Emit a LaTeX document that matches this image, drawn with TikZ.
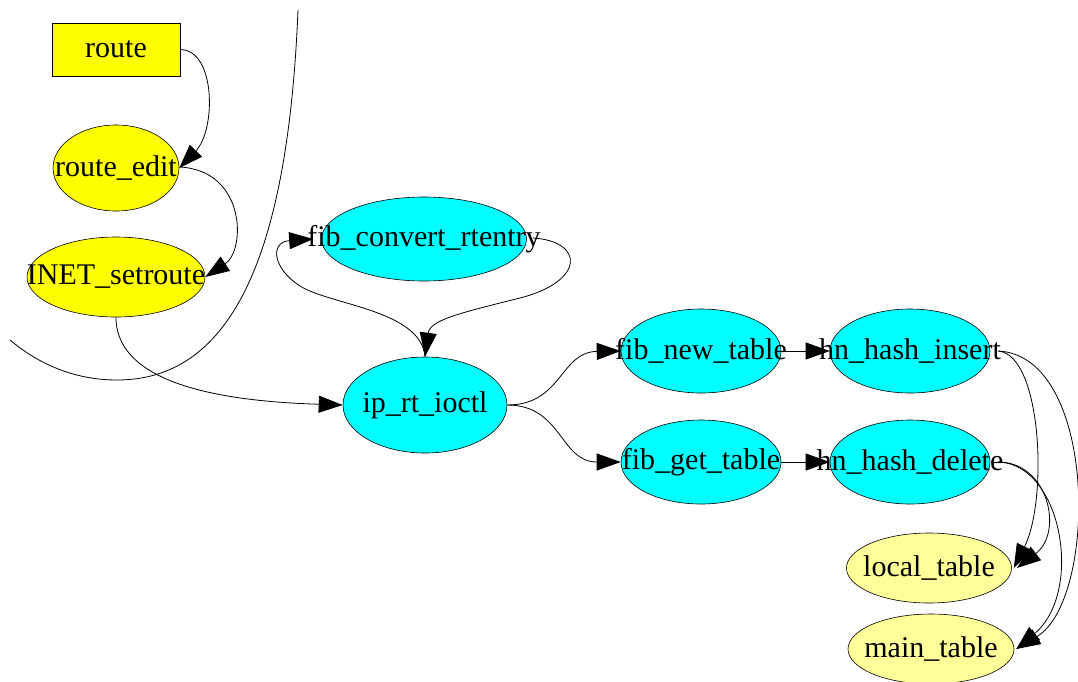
\documentclass[tikz,border=0pt]{standalone}
\usepackage{fontspec}
\setmainfont{Liberation Serif}
\usetikzlibrary{arrows.meta,shapes.geometric}
\definecolor{ylw}{HTML}{FFFF00}
\definecolor{cyn}{HTML}{00FFFF}
\definecolor{pale}{HTML}{FFFF99}
\begin{document}
\begin{tikzpicture}[x=1pt,y=-1pt,
  txt/.style={font=\fontsize{30}{32}\selectfont, inner sep=0pt, text=black},
  base/.style={draw=black, line width=0.6pt, inner sep=0pt},
  ell/.style={base, ellipse},
  ylwell/.style={ell, fill=ylw},
  cynell/.style={ell, fill=cyn},
  paleell/.style={ell, fill=pale},
  conn/.style={line width=0.8pt, -{Triangle[length=24pt,width=17pt]}},
  plain/.style={line width=0.8pt}
]
\useasboundingbox (0,0) rectangle (1078,681);

% nodes
\node[base, rectangle, fill=ylw, minimum width=128pt, minimum height=53pt, txt] (route) at (116,49.5) {route};
\node[ylwell, minimum width=126pt, minimum height=86pt, label={[txt]center:route\_edit}] (redit) at (116,168) {};
\node[ylwell, minimum width=178pt, minimum height=80pt, label={[txt]center:INET\_setroute}] (inet) at (116,277) {};
\node[cynell, minimum width=205pt, minimum height=84pt, label={[txt]center:fib\_convert\_rtentry}] (fconv) at (424,239) {};
\node[cynell, minimum width=164pt, minimum height=96pt, label={[txt]center:ip\_rt\_ioctl}] (ioctl) at (425,405) {};
\node[cynell, minimum width=160pt, minimum height=84pt, label={[txt]center:fib\_new\_table}] (fnew) at (701,351) {};
\node[cynell, minimum width=160pt, minimum height=84pt, label={[txt]center:hn\_hash\_insert}] (hins) at (910,351) {};
\node[cynell, minimum width=160pt, minimum height=84pt, label={[txt]center:fib\_get\_table}] (fget) at (701,462) {};
\node[cynell, minimum width=160pt, minimum height=84pt, label={[txt]center:hn\_hash\_delete}] (hdel) at (910,462) {};
\node[paleell, minimum width=165pt, minimum height=70pt, label={[txt]center:local\_table}] (local) at (929,568) {};
\node[paleell, minimum width=166pt, minimum height=70pt, label={[txt]center:main\_table}] (main) at (931,649) {};

% free curve
\coordinate (ctop) at (298,10);
\coordinate (cbot) at (117,380);
\coordinate (cend) at (10,340);
\draw[plain] (ctop) .. controls (288,255) and (232,380) .. (cbot)
  .. controls (72,380) and (36,362) .. (cend);

% connectors
\draw[conn] (route.east) .. controls (216,50) and (216,130) .. (redit.east);
\draw[conn] ([yshift=1pt]redit.east) .. controls (246,170) and (246,250) .. (inet.east);
\draw[conn] (inet.south) .. controls (116,392) and (250,402) .. (ioctl.west);
\draw[conn] (ioctl.north) .. controls (421,310) and (330,305) .. (300,286)
  .. controls (272,268) and (270,242) .. ([xshift=-8pt]fconv.west);
\draw[conn] ([xshift=6pt,yshift=1pt]fconv.east) .. controls (584,241) and (586,281) .. (520,298)
  .. controls (460,313) and (430,320) .. (ioctl.north);
\draw[conn] (ioctl.east) .. controls (562,405) and (560,352) .. (fnew.west);
\draw[conn] (ioctl.east) .. controls (562,405) and (560,462) .. (fget.west);
\draw[conn] (fnew.east) -- (hins.west);
\draw[conn] (fget.east) -- (hdel.west);
\draw[conn] ([xshift=8pt]hins.east) .. controls (1042,355) and (1048,500) .. ([xshift=2pt]local.east);
\draw[conn] ([xshift=8pt]hins.east) .. controls (1098,356) and (1098,600) .. ([xshift=2pt]main.east);
\draw[conn] ([xshift=8pt]hdel.east) .. controls (1048,462) and (1064,532) .. ([xshift=5pt]local.east);
\draw[conn] ([xshift=8pt]hdel.east) .. controls (1062,464) and (1084,592) .. ([xshift=2pt]main.east);
\end{tikzpicture}
\end{document}
